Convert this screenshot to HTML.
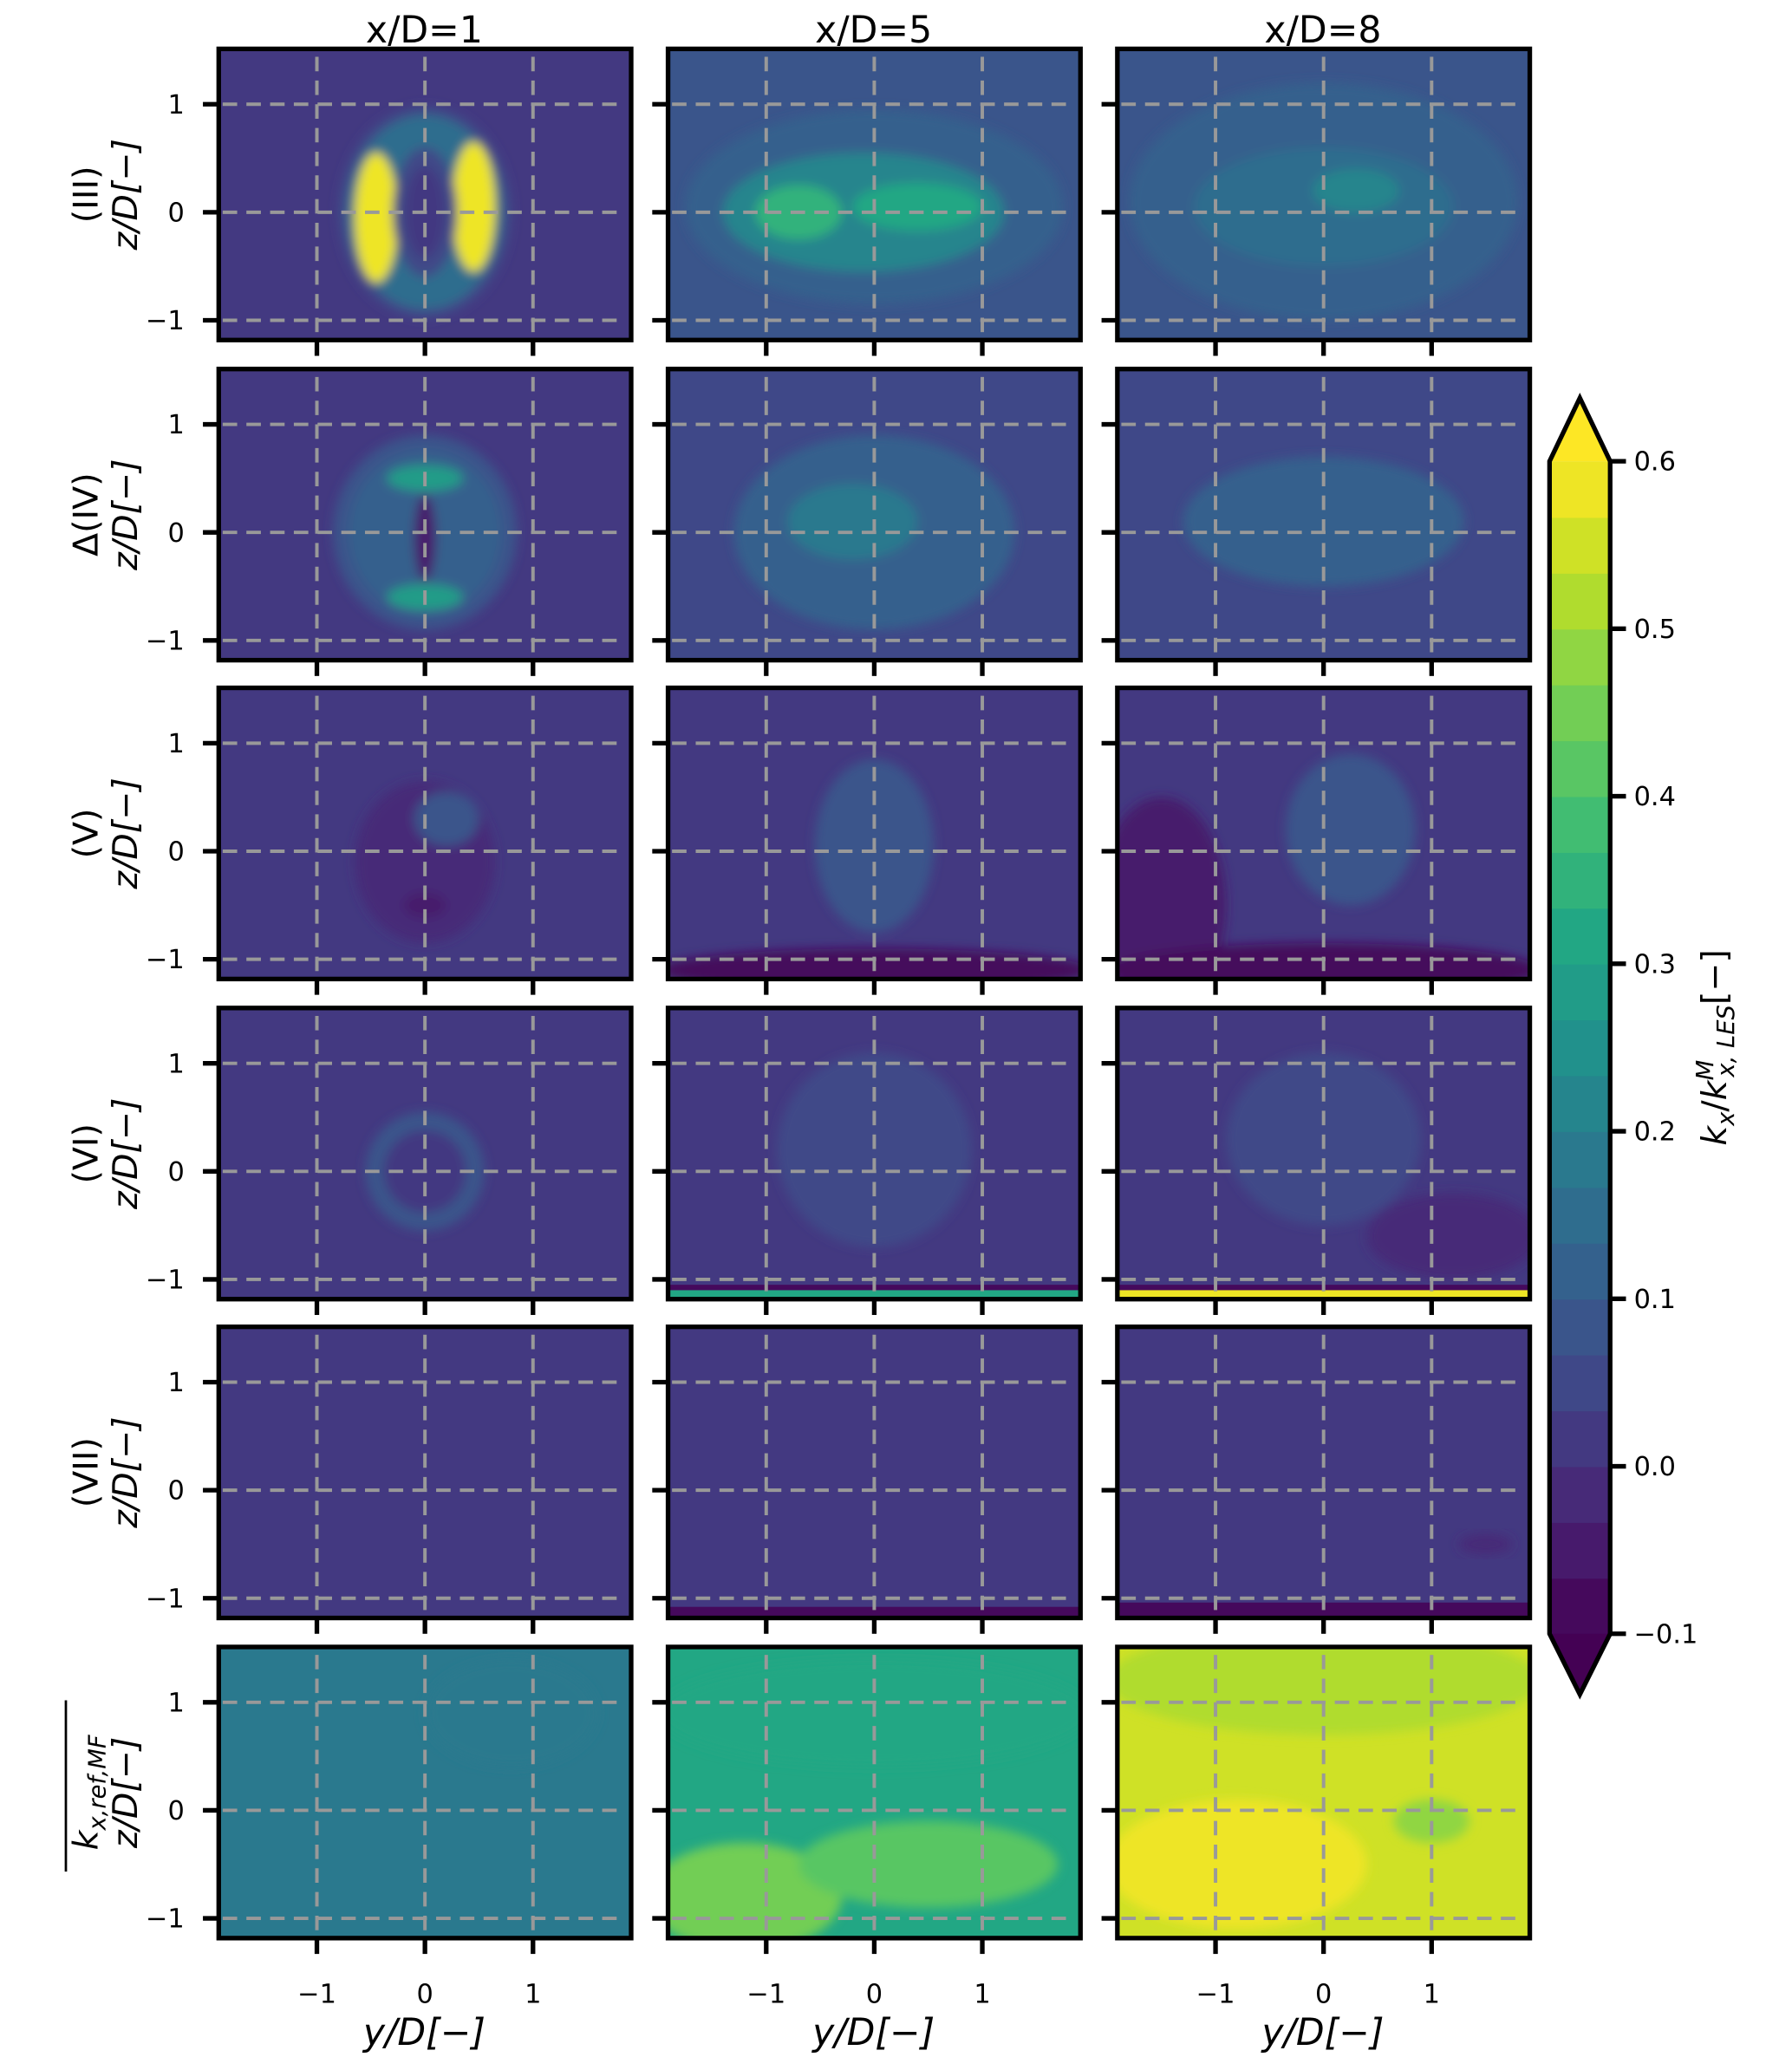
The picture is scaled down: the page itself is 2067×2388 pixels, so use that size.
<!DOCTYPE html>
<html><head><meta charset="utf-8"><style>
html,body{margin:0;padding:0;background:#fff}
svg{display:block}
text{font-family:"DejaVu Sans","Liberation Sans",sans-serif;fill:#000}
</style></head><body>
<svg id="fig" width="2067" height="2388" viewBox="0 0 1360 1571" xmlns="http://www.w3.org/2000/svg">
<defs><filter id="bl" x="-20%" y="-20%" width="140%" height="140%"><feGaussianBlur stdDeviation="4"/></filter></defs>
</svg>
<script>
// ---- data ----
const colTitles = ["x/D=1","x/D=5","x/D=8"];
const rowLabels = ["(III)","\u0394(IV)","(V)","(VI)","(VII)","kx,ref,MF"];
const yTicks = [-1,0,1];
const zTicks = [-1,0,1];
const cbTicks = [-0.1,0.0,0.1,0.2,0.3,0.4,0.5,0.6];
const cbMin = -0.1, cbMax = 0.6, nBands = 21;
// background value per panel [row][col]
const bgVals = [[0.01,0.08,0.07],[0.0,0.06,0.06],[0.0,0.02,0.0],[0.02,0.02,0.01],[0.0,0.0,0.0],[0.19,0.33,0.55]];
// blobs: row, col, y, z, ry, rz, value
const blobs = [
 [0,0,0,0,0.8,0.98,0.06],[0,0,0,0,0.72,0.9,0.15],[0,0,-0.45,-0.05,0.2,0.6,0.6],[0,0,0.45,0.05,0.2,0.6,0.57],[0,0,0,0,0.3,0.6,0.06],[0,0,0,0,0.18,0.42,0.01],
 [0,1,0,0.05,1.75,0.9,0.13],[0,1,-0.1,0,1.3,0.55,0.22],[0,1,-0.7,0,0.4,0.25,0.36],[0,1,0.4,0.05,0.6,0.22,0.3],
 [0,2,0,0.1,1.8,1.1,0.1],[0,2,0,0.05,1.2,0.55,0.16],[0,2,0.3,0.2,0.4,0.2,0.2],
 [1,0,0,0,0.85,0.9,0.07],[1,0,0,0,0.7,0.75,0.12],[1,0,0,0.5,0.35,0.12,0.28],[1,0,0,-0.6,0.35,0.12,0.28],[1,0,0,-0.05,0.1,0.4,-0.05],
 [1,1,0,0,1.3,0.9,0.11],[1,1,-0.2,0.1,0.6,0.35,0.17],
 [1,2,0,0.1,1.3,0.6,0.1],[1,2,-0.1,0.2,0.5,0.2,0.13],
 [2,0,0,-0.1,0.65,0.75,-0.02],[2,0,0.2,0.3,0.3,0.25,0.08],[2,0,0,-0.5,0.2,0.12,-0.06],
 [2,1,0,0.05,0.55,0.8,0.08],[2,1,0,-1.1,2.0,0.2,-0.08],
 [2,2,0.25,0.2,0.6,0.7,0.08],[2,2,-1.5,-0.5,0.6,1.0,-0.06],[2,2,0,-1.1,2.0,0.25,-0.08],
 [3,0,0,0,0.55,0.55,0.09],[3,0,0,0,0.38,0.38,0.02],
 [3,1,0,0.2,0.9,0.9,0.04],
 [3,2,0,0.3,0.9,0.8,0.04],[3,2,1.2,-0.6,0.8,0.4,-0.03],
 [4,2,1.5,-0.5,0.25,0.1,-0.02],
 [5,0,0.8,0.9,0.8,0.5,0.17],
 [5,1,0,0.9,2,0.5,0.3],[5,1,-1.2,-0.8,0.9,0.5,0.45],[5,1,0.5,-0.5,1.2,0.4,0.4],
 [5,2,0,1.2,2,0.5,0.5],[5,2,-0.8,-0.5,1.2,0.6,0.6],[5,2,1.0,-0.1,0.35,0.2,0.47]
];
// bottom strips: row, col, zTop, value
const strips = [[3,1,-1.05,-0.08],[3,2,-1.05,-0.08],[3,1,-1.1,0.3],[3,2,-1.1,0.6],[4,1,-1.08,-0.07],[4,2,-1.04,-0.08]];

// ---- helpers ----
const NS="http://www.w3.org/2000/svg";
const svg=document.getElementById('fig');
const vir=["#440154","#482475","#414487","#355f8d","#2a788e","#21918c","#22a884","#44bf70","#7ad151","#bddf26","#fde725"];
function hx(c){return [1,3,5].map(i=>parseInt(c.substr(i,2),16));}
function viridis(t){t=Math.max(0,Math.min(1,t));const f=t*10,i=Math.min(9,Math.floor(f)),r=f-i;const a=hx(vir[i]),b=hx(vir[i+1]);return "rgb("+a.map((v,k)=>Math.round(v+(b[k]-v)*r)).join(",")+")";}
function cmap(v){let i=Math.floor((v-cbMin)/(cbMax-cbMin)*nBands);i=Math.max(0,Math.min(nBands-1,i));return viridis((i+0.5)/nBands);}
function el(tag,attrs,parent){const e=document.createElementNS(NS,tag);for(const k in attrs)e.setAttribute(k,attrs[k]);(parent||svg).appendChild(e);return e;}
const colX=[166,507,848], rowY=[37,280,522,765,1007,1250], PW=313, PH=221, S=82;
function px(c,y){return colX[c]+156.5+y*S;}
function pz(r,z){return rowY[r]+124-z*S;}

// panels
for(let r=0;r<6;r++)for(let c=0;c<3;c++){
  const g=el('g',{});
  
  
  const cid='cp'+r+c;
  const cp=el('clipPath',{id:cid},svg.querySelector('defs'));
  el('rect',{x:colX[c],y:rowY[r],width:PW,height:PH},cp);
  el('rect',{x:colX[c],y:rowY[r],width:PW,height:PH,fill:cmap(bgVals[r][c])},g);
  const f=el('g',{'clip-path':'url(#'+cid+')'},g);
  const fb=el('g',{filter:'url(#bl)'},f);
  blobs.filter(b=>b[0]===r&&b[1]===c).forEach(b=>{
    const e=el('ellipse',{cx:px(c,b[2]),cy:pz(r,b[3]),rx:b[4]*S,ry:b[5]*S,fill:cmap(b[6])},fb);
    
    
  });
  strips.filter(s=>s[0]===r&&s[1]===c).forEach(s=>{
    const y0=pz(r,s[2]);
    el('rect',{x:colX[c],y:y0,width:PW,height:rowY[r]+PH-y0,fill:cmap(s[3])},f);
  });
  // grid
  yTicks.forEach(t=>el('line',{x1:px(c,t),x2:px(c,t),y1:rowY[r]+6,y2:rowY[r]+PH,stroke:'#999',
    'stroke-width':2.6,'stroke-dasharray':'11,7'},g));
  zTicks.forEach(t=>el('line',{x1:colX[c]+3,x2:colX[c]+PW-4,y1:pz(r,t),y2:pz(r,t),stroke:'#999',
    'stroke-width':2.6,'stroke-dasharray':'11,7'},g));
  el('rect',{x:colX[c],y:rowY[r],width:PW,height:PH,fill:'none',stroke:'#000','stroke-width':3.5},g);
  // ticks
  zTicks.forEach(t=>el('line',{x1:colX[c]-12,x2:colX[c],y1:pz(r,t),y2:pz(r,t),stroke:'#000','stroke-width':3.5},g));
  yTicks.forEach(t=>el('line',{x1:px(c,t),x2:px(c,t),y1:rowY[r]+PH,y2:rowY[r]+PH+12,stroke:'#000','stroke-width':3.5},g));
  if(c===0){
    zTicks.forEach(t=>{const tx=el('text',{x:140,y:pz(r,t)+7,'font-size':20,'text-anchor':'end'},g);tx.textContent=t<0?'\u2212'+Math.abs(t):String(t);});
    const cy=rowY[r]+PH/2;
    const lab=el('text',{transform:'translate(104,'+cy+') rotate(-90)','font-size':26,'text-anchor':'middle','font-style':'italic'},g);
    lab.textContent='z/D[\u2212]';
    
    
    const rl=el('text',{transform:'translate(74,'+cy+') rotate(-90)','font-size':26,'text-anchor':'middle'},g);
    if(r===5){rl.innerHTML='<tspan font-style="italic">k</tspan><tspan font-style="italic" font-size="18" dy="6">x,ref,MF</tspan>';
      el('line',{x1:50,x2:50,y1:cy-70,y2:cy+60,stroke:'#000','stroke-width':1.8},g);}
    else rl.textContent=rowLabels[r];
    
    
  }
  if(r===0){const t=el('text',{x:colX[c]+156,y:32,'font-size':28,'text-anchor':'middle'},g);t.textContent=colTitles[c];
    
    }
  if(r===5){
    yTicks.forEach(t=>{const tx=el('text',{x:px(c,t),y:1520,'font-size':20,'text-anchor':'middle'},g);tx.textContent=t<0?'\u2212'+Math.abs(t):String(t);});
    const xl=el('text',{x:colX[c]+156,y:1552,'font-size':28,'text-anchor':'middle','font-style':'italic'},g);xl.textContent='y/D[\u2212]';
    
    
  }
}
// colorbar
const cb=el('g',{});


const cbX=1176,cbW=46,cbTop=350,cbBot=1240;
function cy(v){return cbBot-(v-cbMin)/(cbMax-cbMin)*(cbBot-cbTop);}
for(let i=0;i<nBands;i++){const v0=cbMin+i*(cbMax-cbMin)/nBands,v1=v0+(cbMax-cbMin)/nBands;
  el('rect',{x:cbX,y:cy(v1),width:cbW,height:cy(v0)-cy(v1)+0.6,fill:cmap((v0+v1)/2)},cb);}
el('polygon',{points:cbX+','+cbTop+' '+(cbX+cbW/2)+',302 '+(cbX+cbW)+','+cbTop,fill:'#fde725'},cb);
el('polygon',{points:cbX+','+cbBot+' '+(cbX+cbW/2)+',1286 '+(cbX+cbW)+','+cbBot,fill:'#440154'},cb);
el('polygon',{points:cbX+','+cbTop+' '+(cbX+cbW/2)+',302 '+(cbX+cbW)+','+cbTop+' '+(cbX+cbW)+','+cbBot+' '+(cbX+cbW/2)+',1286 '+cbX+','+cbBot,fill:'none',stroke:'#000','stroke-width':3.5},cb);
cbTicks.forEach(t=>{el('line',{x1:cbX+cbW,x2:cbX+cbW+12,y1:cy(t),y2:cy(t),stroke:'#000','stroke-width':3.5},cb);
  const tx=el('text',{x:1240,y:cy(t)+7,'font-size':20},cb);tx.textContent=(t<0?'\u2212':'')+Math.abs(t).toFixed(1);});
const cl=el('text',{transform:'translate(1310,795) rotate(-90)','font-size':26,'text-anchor':'middle'},cb);
cl.innerHTML='<tspan font-style="italic">k</tspan><tspan font-style="italic" font-size="18" dy="6">x</tspan><tspan dy="-6">/</tspan><tspan font-style="italic">k</tspan><tspan font-style="italic" font-size="18" dy="-10">M</tspan><tspan font-style="italic" font-size="18" dx="-13" dy="16">x, LES</tspan><tspan dy="-6">[\u2212]</tspan>';


</script>
</body></html>
